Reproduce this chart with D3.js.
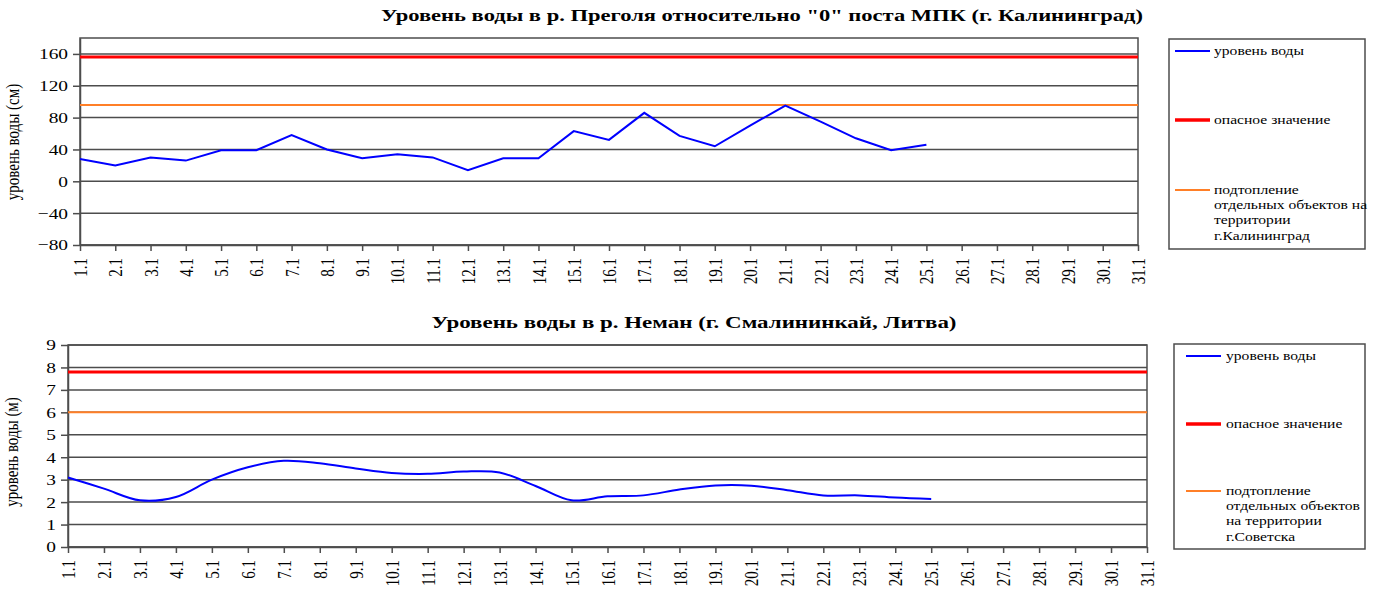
<!DOCTYPE html>
<html>
<head>
<meta charset="utf-8">
<script src="https://cdn.jsdelivr.net/npm/d3@7"></script>
<style>
  body { margin: 0; background: #fff; }
  svg text { font-family: "Times New Roman", "Liberation Serif", "DejaVu Serif", serif; fill: #000; }
</style>
</head>
<body>
<div id="chart"></div>
<script>
// Dates on the x axis (January)
const days = d3.range(1, 32).map(d => d + ".1");

// Pregolya, Kaliningrad (cm)
const pregolyaLevel = [28, 20, 30, 26, 39, 39, 58, 40, 29, 34, 30, 14, 29, 29, 63, 52, 86, 57, 44, 70, 95, 75, 54, 39, 46];
const pregolyaDanger = 156;
const pregolyaFlood = 96;
const pregolyaTicks = [-80, -40, 0, 40, 80, 120, 160];

// Neman, Smalininkai (m)
const nemanLevel = [3.1, 2.6, 2.08, 2.23, 3.0, 3.55, 3.84, 3.73, 3.5, 3.3, 3.26, 3.36, 3.32, 2.72, 2.08, 2.26, 2.3, 2.56, 2.74, 2.73, 2.53, 2.3, 2.3, 2.2, 2.14];
const nemanDanger = 7.8;
const nemanFlood = 6.0;
const nemanTicks = [0, 1, 2, 3, 4, 5, 6, 7, 8, 9];

// the original picture is stretched sideways, so text gets the same stretch
const sx = 1.25;
const serif = '"Times New Roman", "Liberation Serif", "DejaVu Serif", serif';
const grid = "#4d4d4d";

const svg = d3.select("#chart")
  .append("svg")
    .attr("width", 1376)
    .attr("height", 589);

function drawChart(cfg) {
  const g = svg.append("g");

  const x = d3.scalePoint().domain(days).range([cfg.left, cfg.right]);
  const y = d3.scaleLinear().domain(cfg.domain).range([cfg.bottom, cfg.top]);

  // Title
  g.append("text")
    .attr("x", cfg.titleX)
    .attr("y", cfg.titleY)
    .attr("text-anchor", "middle")
    .attr("textLength", cfg.titleW)
    .attr("lengthAdjust", "spacingAndGlyphs")
    .style("font-family", serif)
    .style("font-size", "16.5px")
    .style("font-weight", "bold")
    .text(cfg.title);

  // Grid lines
  g.selectAll(".grid")
    .data(cfg.ticks)
    .enter().append("line")
      .attr("x1", cfg.left)
      .attr("x2", cfg.right)
      .attr("y1", d => y(d))
      .attr("y2", d => y(d))
      .attr("stroke", grid)
      .attr("stroke-width", 1.5);

  // Plot frame
  g.append("rect")
    .attr("x", cfg.left)
    .attr("y", cfg.top)
    .attr("width", cfg.right - cfg.left)
    .attr("height", cfg.bottom - cfg.top)
    .attr("fill", "none")
    .attr("stroke", grid)
    .attr("stroke-width", 1.5);

  // Y axis
  const yAxis = g.append("g")
    .attr("transform", `translate(${cfg.left},0)`)
    .attr("font-family", null)
    .call(d3.axisLeft(y).tickValues(cfg.ticks).tickSize(7).tickPadding(5).tickSizeOuter(0));
  yAxis.attr("font-family", null).attr("font-size", null);
  yAxis.select(".domain").attr("stroke", grid).attr("stroke-width", 1.5);
  yAxis.selectAll(".tick line").attr("stroke", grid).attr("stroke-width", 1.5);
  yAxis.selectAll("text")
    .style("font-family", serif)
    .style("font-size", "15.5px")
    .attr("x", -12 / sx)
    .attr("transform", `scale(${sx},1)`);

  // X axis
  const xAxis = g.append("g")
    .attr("transform", `translate(0,${cfg.bottom})`)
    .call(d3.axisBottom(x).tickSize(6).tickSizeOuter(0));
  xAxis.attr("font-family", null).attr("font-size", null);
  xAxis.select(".domain").attr("stroke", grid).attr("stroke-width", 1.5);
  xAxis.selectAll(".tick line").attr("stroke", grid).attr("stroke-width", 1.5);
  xAxis.selectAll("text")
    .style("font-family", serif)
    .style("font-size", "15px")
    .attr("text-anchor", "end")
    .attr("transform", `scale(${sx},1) rotate(-90)`)
    .attr("x", -13)
    .attr("y", 0)
    .attr("dy", "0.35em");

  // Y axis title
  g.append("text")
    .attr("transform", `translate(${cfg.yTitleX},${cfg.yTitleY}) scale(${sx},1) rotate(-90)`)
    .attr("text-anchor", "middle")
    .style("font-family", serif)
    .style("font-size", "15px")
    .text(cfg.yTitle);

  // Threshold lines
  g.append("line")
    .attr("x1", cfg.left).attr("x2", cfg.right)
    .attr("y1", y(cfg.flood)).attr("y2", y(cfg.flood))
    .attr("stroke", "#ff7f27").attr("stroke-width", 2);
  g.append("line")
    .attr("x1", cfg.left).attr("x2", cfg.right)
    .attr("y1", y(cfg.danger)).attr("y2", y(cfg.danger))
    .attr("stroke", "#ff0000").attr("stroke-width", 3);

  // Water level line
  const line = d3.line()
    .x((d, i) => x(days[i]))
    .y(d => y(d))
    .curve(cfg.curve);
  g.append("path")
    .datum(cfg.values)
    .attr("d", line)
    .attr("fill", "none")
    .attr("stroke", "#0000ff")
    .attr("stroke-width", 2);

  // Legend
  const lg = cfg.legend;
  g.append("rect")
    .attr("x", lg.x)
    .attr("y", lg.y)
    .attr("width", lg.w)
    .attr("height", lg.h)
    .attr("fill", "none")
    .attr("stroke", grid)
    .attr("stroke-width", 1.5);

  const items = [
    { color: "#0000ff", width: 2, lines: ["уровень воды"] },
    { color: "#ff0000", width: 3.5, lines: ["опасное значение"] },
    { color: "#ff7f27", width: 2, lines: lg.floodLines }
  ];
  items.forEach((it, i) => {
    const yy = lg.itemY[i];
    g.append("line")
      .attr("x1", lg.lineX).attr("x2", lg.lineX + 35)
      .attr("y1", yy).attr("y2", yy)
      .attr("stroke", it.color).attr("stroke-width", it.width);
    const t = g.append("text")
      .attr("transform", `translate(${lg.textX},${yy}) scale(${sx},1)`)
      .style("font-family", serif)
      .style("font-size", "12.5px");
    it.lines.forEach((s, j) => {
      t.append("tspan")
        .attr("x", 0)
        .attr("dy", j === 0 ? "0.3em" : "15.3px")
        .text(s);
    });
  });
}

drawChart({
  title: "Уровень воды в р. Преголя относительно \"0\" поста МПК (г. Калининград)",
  titleX: 762, titleY: 21, titleW: 762,
  yTitle: "уровень воды (см)", yTitleX: 19, yTitleY: 142,
  left: 80, right: 1138, top: 38, bottom: 245,
  domain: [-80, 180], ticks: pregolyaTicks,
  values: pregolyaLevel, danger: pregolyaDanger, flood: pregolyaFlood,
  curve: d3.curveLinear,
  legend: {
    x: 1169, y: 39, w: 196, h: 210,
    lineX: 1175, textX: 1214, itemY: [51, 120, 190],
    floodLines: ["подтопление", "отдельных объектов на", "территории", "г.Калининград"]
  }
});

drawChart({
  title: "Уровень воды в р. Неман (г. Смалининкай, Литва)",
  titleX: 694, titleY: 328, titleW: 525,
  yTitle: "уровень воды (м)", yTitleX: 18, yTitleY: 452,
  left: 68, right: 1147, top: 345, bottom: 547,
  domain: [0, 9], ticks: nemanTicks,
  values: nemanLevel, danger: nemanDanger, flood: nemanFlood,
  curve: d3.curveCatmullRom,
  legend: {
    x: 1174, y: 344, w: 191, h: 205,
    lineX: 1186, textX: 1226, itemY: [356, 424, 491],
    floodLines: ["подтопление", "отдельных объектов", "на территории", "г.Советска"]
  }
});
</script>
</body>
</html>
